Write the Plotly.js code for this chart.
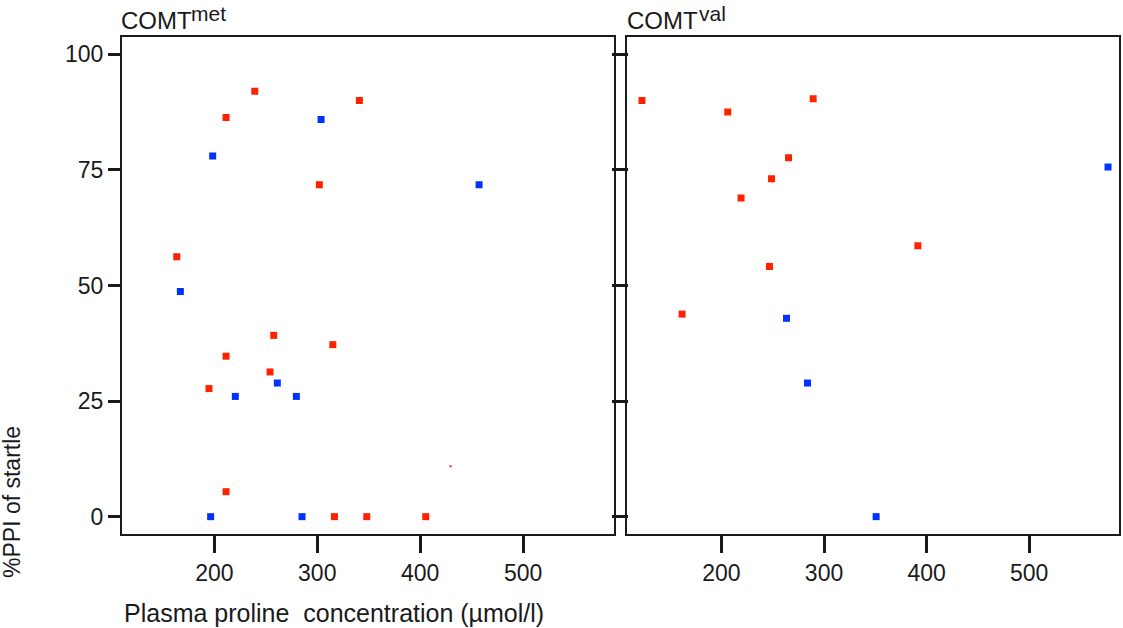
<!DOCTYPE html>
<html>
<head>
<meta charset="utf-8">
<script src="https://cdn.plot.ly/plotly-3.0.1.min.js"></script>
<style>html,body{margin:0;padding:0;background:#fff;}#chart{width:1123px;height:628px;}</style>
</head>
<body>
<div id="chart"></div>
<script>
// COMT met panel
const metRedX  = [239.3, 340.9, 211.4, 302.0, 163.5, 257.7, 315.1, 211.4, 254.1, 194.8, 211.4, 316.7, 348.1, 405.4];
const metRedY  = [92.0, 90.0, 86.3, 71.8, 56.2, 39.2, 37.2, 34.7, 31.3, 27.7, 5.4, 0, 0, 0];
const metBlueX = [303.7, 198.4, 457.2, 167.0, 261.2, 220.4, 279.7, 196.4, 285.2];
const metBlueY = [85.9, 78.0, 71.8, 48.7, 28.9, 26.0, 26.0, 0, 0];
const metDotX  = [429.5];
const metDotY  = [10.9];
// COMT val panel
const valRedX  = [122.5, 289.4, 206.1, 265.4, 248.8, 219.1, 391.5, 246.8, 161.6];
const valRedY  = [90.0, 90.4, 87.5, 77.6, 73.1, 68.9, 58.6, 54.1, 43.8];
const valBlueX = [576.9, 263.4, 283.9, 350.8];
const valBlueY = [75.6, 42.9, 28.9, 0];

const xTicks = [200, 300, 400, 500];
const yTicks = [0, 25, 50, 75, 100];
const panelMain = ['COMT', 'COMT'];
const panelSup = ['met', 'val'];
const xTitle = 'Plasma proline\u00a0 concentration (\u00b5mol/l)';
const yTitle = '%PPI of startle';

const RED = '#ff2200', BLUE = '#0033ff';
const FONT = 'Liberation Sans, Arial, sans-serif';
const INK = '#1a1a1a';

function pts(x, y, color, xa, ya, size) {
  return {type:'scatter', mode:'markers', x:x, y:y, xaxis:xa, yaxis:ya,
    marker:{symbol:'square', size:size, color:color, line:{width:0}},
    hoverinfo:'x+y', showlegend:false};
}

const data = [
  pts(metRedX, metRedY, RED, 'x', 'y', 7),
  pts(metBlueX, metBlueY, BLUE, 'x', 'y', 7),
  pts(metDotX, metDotY, RED, 'x', 'y', 2),
  pts(valRedX, valRedY, RED, 'x2', 'y2', 7),
  pts(valBlueX, valBlueY, BLUE, 'x2', 'y2', 7)
];

const W = 1123, H = 628;
const axisCommon = {
  showgrid:false, zeroline:false, showline:true, linecolor:INK, linewidth:2,
  ticks:'outside', tickcolor:INK, tickwidth:3,
  tickfont:{family:FONT, size:23, color:INK}
};
const yDomain = [(H-534)/H, (H-36.7)/H];

function ann(text, x, y, xanchor, yanchor, size, extra) {
  return Object.assign({text:text, xref:'paper', yref:'paper', x:x/W, y:(H-y)/H,
    xanchor:xanchor, yanchor:yanchor, showarrow:false, borderpad:0,
    font:{family:FONT, size:size, color:INK}}, extra || {});
}

const layout = {
  width:W, height:H, margin:{l:0, r:0, t:0, b:0},
  paper_bgcolor:'#fff', plot_bgcolor:'#fff',
  showlegend:false,
  xaxis: Object.assign({}, axisCommon, {domain:[122/W, 613.5/W], range:[110.3, 587.8], tickvals:xTicks, ticklen:17, mirror:true, anchor:'y'}),
  xaxis2: Object.assign({}, axisCommon, {domain:[627/W, 1118.7/W], range:[107.9, 587.3], tickvals:xTicks, ticklen:17, mirror:true, anchor:'y2'}),
  yaxis: Object.assign({}, axisCommon, {domain:yDomain, range:[-3.75, 103.8], tickvals:yTicks, ticklen:12, mirror:'ticks', anchor:'x'}),
  yaxis2: Object.assign({}, axisCommon, {domain:yDomain, range:[-3.75, 103.8], tickvals:yTicks, ticklen:13, mirror:true, showticklabels:false, anchor:'x2'}),
  annotations: [
    ann(panelMain[0], 120, 20.5, 'left', 'middle', 24),
    ann(panelSup[0], 190, 13.5, 'left', 'middle', 21),
    ann(panelMain[1], 626, 20.5, 'left', 'middle', 24),
    ann(panelSup[1], 698, 13.5, 'left', 'middle', 21),
    ann(xTitle, 123, 613, 'left', 'middle', 25),
    ann(yTitle, 12, 502, 'center', 'middle', 23, {textangle:-90})
  ]
};

Plotly.newPlot('chart', data, layout, {displayModeBar:false, staticPlot:true});
</script>
</body>
</html>
